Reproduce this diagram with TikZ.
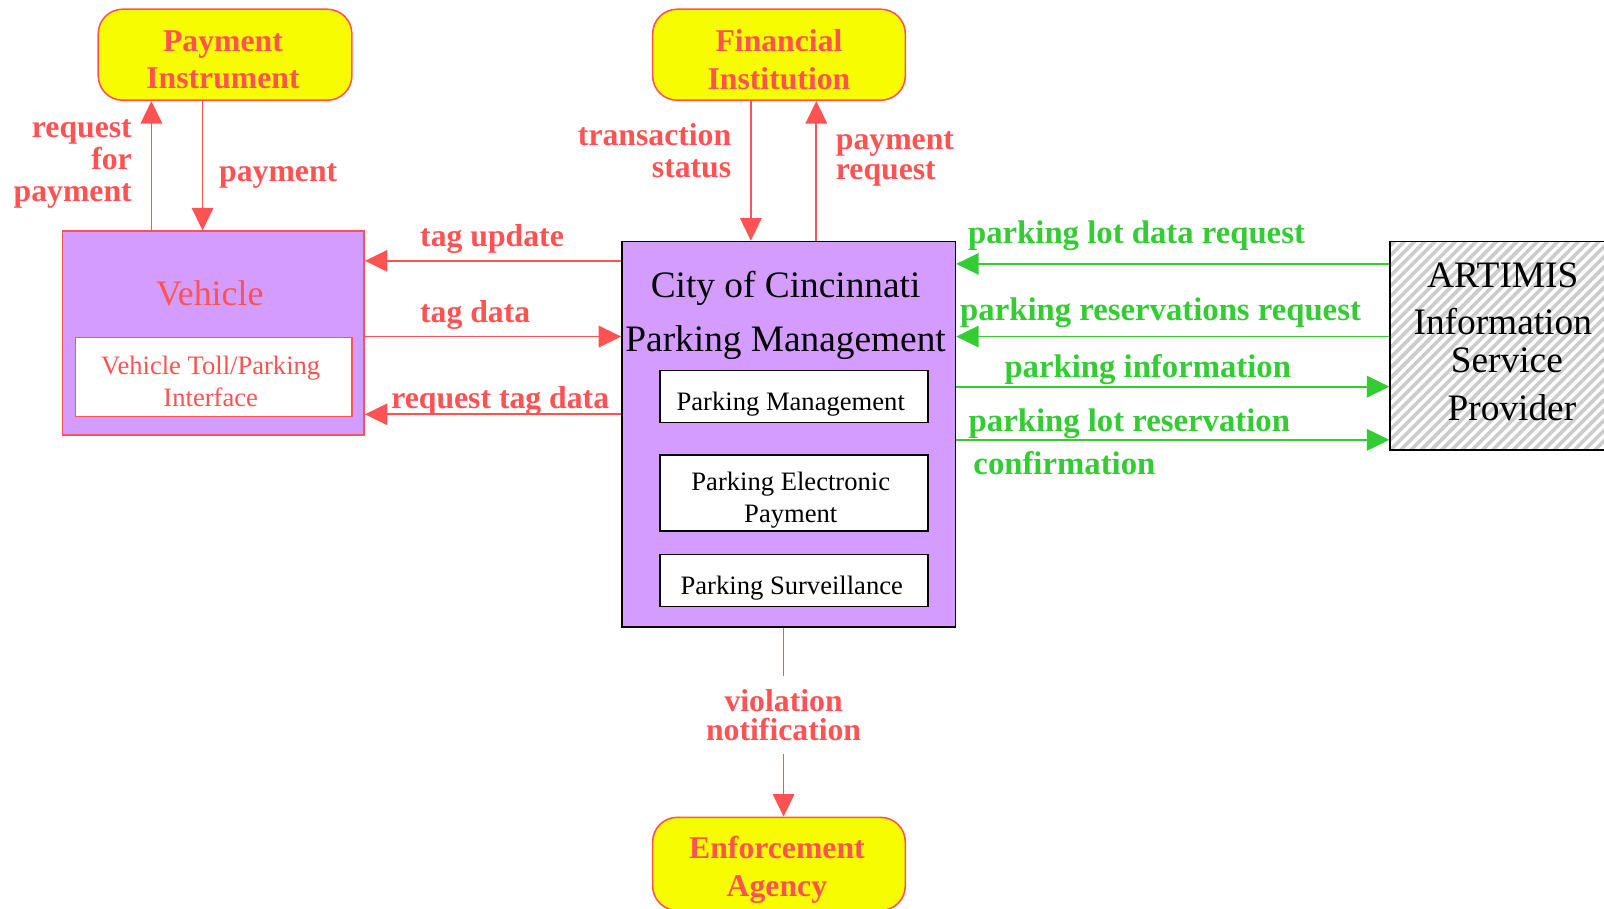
\documentclass[tikz,border=0pt]{standalone}
\usepackage{fontspec}
\setmainfont{Liberation Serif}
\usetikzlibrary{arrows.meta,calc}
\definecolor{cred}{RGB}{255,82,82}
\definecolor{cgreen}{RGB}{51,204,51}
\definecolor{cpurple}{RGB}{212,156,255}
\definecolor{cyellow}{RGB}{248,252,0}
\tikzset{
  extbox/.style={draw=cred, line width=1.5pt, fill=cyellow, rounded corners=24pt, inner sep=0pt},
  exttext/.style={text=cred, font=\fontsize{31}{37}\selectfont\bfseries, align=center, inner sep=0pt},
  subbox/.style={draw=black, line width=1.5pt, fill=white, inner sep=0pt},
  subtext/.style={font=\fontsize{26}{31}\selectfont, align=center, inner sep=0pt},
  lbl/.style={text=cred, font=\fontsize{31}{31}\selectfont\bfseries, inner sep=0pt, align=center},
  glbl/.style={text=cgreen, font=\fontsize{32}{31}\selectfont\bfseries, inner sep=0pt, align=center},
  redarr/.style={draw=cred, line width=1.7pt, -{Triangle[length=22pt,width=21pt]}},
  grnarr/.style={draw=cgreen, line width=1.7pt, -{Triangle[length=22pt,width=21pt]}},
}
\begin{document}
\begin{tikzpicture}[x=1pt,y=-1pt]
\useasboundingbox (0,0) rectangle (1568,888);
\clip (0,0) rectangle (1568,888);
\fill[white] (0,0) rectangle (1568,888);

% external boxes
\node[extbox, minimum width=248pt, minimum height=89pt] (pi) at (220,53.5) {};
\node[exttext] (pitext) at (218,58.5) {Payment\\Instrument};
\node[extbox, minimum width=247pt, minimum height=89pt] (fi) at (761.5,53.5) {};
\node[exttext] (fitext) at (761.5,58.5) {Financial\\Institution};
\node[extbox, minimum width=247pt, minimum height=91pt] (ea) at (761.5,844.5) {};
\node[exttext] (eatext) at (759.5,850) {Enforcement\\Agency};

% vehicle
\node[draw=cred, line width=1.5pt, fill=cpurple, minimum width=295pt, minimum height=199pt, inner sep=0pt] (veh) at (208.5,325.5) {};
\node[text=cred, font=\fontsize{35}{40}\selectfont, inner sep=0pt] (vehtitle) at (205,287) {Vehicle};
\node[subbox, draw=cred, minimum width=270pt, minimum height=77pt] (vtpi) at (209,368.5) {};
\node[subtext, text=cred] (vtpitext) at (206,373) {Vehicle Toll/Parking\\Interface};

% central
\node[draw=black, line width=1.5pt, fill=cpurple, minimum width=326pt, minimum height=377pt, inner sep=0pt] (city) at (771,424.5) {};
\node[font=\fontsize{36.5}{53}\selectfont, align=center, inner sep=0pt] (citytitle) at (768,308.5) {City of Cincinnati\\Parking Management};
\node[subbox, minimum width=262pt, minimum height=51pt] (pm) at (776,387.5) {};
\node[subtext] (pmtext) at (773,395.5) {Parking Management};
\node[subbox, minimum width=262pt, minimum height=74pt] (pep) at (776,482) {};
\node[subtext] (peptext) at (773,489) {Parking Electronic\\Payment};
\node[subbox, minimum width=262pt, minimum height=51pt] (ps) at (776,567.5) {};
\node[subtext] (pstext) at (774,574.5) {Parking Surveillance};

% ARTIMIS
\node[draw=black, line width=1.5pt, fill=white, minimum width=231pt, minimum height=204pt, inner sep=0pt,
  path picture={\foreach \k in {-30,...,30}
    \draw[gray!40, line width=3.5pt] ([xshift=\k*10pt]path picture bounding box.south west) -- ++(320,-320);}]
  (art) at (1474.5,338) {};
\node[font=\fontsize{36.5}{43}\selectfont, align=center, inner sep=0pt] (arttext) at (1469,334)
  {ARTIMIS\\[3pt]Information\\[-6pt]\hspace*{8pt}Service\\[4pt]\hspace*{18pt}Provider};

% connectors: vehicle / payment instrument
\draw[redarr] (148,0 |- veh.north) -- (148,0 |- pi.south);
\draw[redarr] (198,0 |- pi.south) -- (198,0 |- veh.north);
% financial institution
\draw[redarr] (734,0 |- fi.south) -- (734,0 |- city.north);
\draw[redarr] (798,0 |- city.north) -- (798,0 |- fi.south);
% vehicle / city
\draw[redarr] (city.west |- 0,255) -- (veh.east |- 0,255);
\draw[redarr] (veh.east |- 0,329) -- (city.west |- 0,329);
\draw[redarr] (city.west |- 0,405) -- (veh.east |- 0,405);
% ARTIMIS / city
\draw[grnarr] (art.west |- 0,258) -- (city.east |- 0,258);
\draw[grnarr] (art.west |- 0,329) -- (city.east |- 0,329);
\draw[grnarr] (city.east |- 0,378) -- (art.west |- 0,378);
\draw[grnarr] (city.east |- 0,430) -- (art.west |- 0,430);
% enforcement
\draw[redarr] (766,0 |- city.south) -- node[pos=0.462, lbl, fill=white, inner xsep=4pt, inner ysep=13pt, font=\fontsize{31}{28}\selectfont\bfseries] (vn) {violation\\notification} (766,0 |- ea.north);

% labels
\node[lbl, align=right, anchor=east] (lrfp) at (129,160.5) {request\\for\\payment};
\node[lbl] (lpay) at (272,172) {payment};
\node[lbl, align=right, anchor=east] (lts) at (715,147) {transaction\\status};
\node[lbl, align=left, anchor=west, font=\fontsize{31}{29}\selectfont\bfseries] (lpr) at (817,155.5) {payment\\request};
\node[lbl] (ltu) at (481,234) {tag update};
\node[lbl] (ltd) at (464.5,308) {tag data};
\node[lbl] (lrtd) at (489,392) {request tag data};
\node[glbl] (lpldr) at (1111,230) {parking lot data request};
\node[glbl] (lprr) at (1134.5,306) {parking reservations request};
\node[glbl] (lpi) at (1122,361) {parking information};
\node[glbl] (lplr) at (1104,414) {parking lot reservation};
\node[glbl] (lconf) at (1040.5,453) {confirmation};
\end{tikzpicture}
\end{document}
